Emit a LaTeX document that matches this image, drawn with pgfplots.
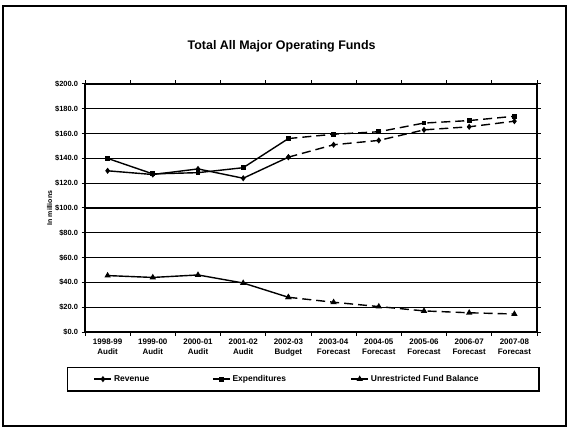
\documentclass[border=0pt]{standalone}
\usepackage{fontspec}
\setmainfont{Liberation Sans}
\usepackage{pgfplots}
\pgfplotsset{compat=1.18}
\usepackage{pgfplotstable}

% Actuals and budget: 1998-99 .. 2002-03 (x = 0..4)
\pgfplotstableread{
x  rev    exp    fb
0  130.0  140.0  45.5
1  127.0  127.5  44.0
2  131.5  128.5  46.0
3  124.0  132.5  39.5
4  141.0  156.0  28.0
}\actuals
% Forecast: 2002-03 .. 2007-08 (x = 4..9)
\pgfplotstableread{
x  rev    exp    fb
4  141.0  156.0  28.0
5  151.0  159.5  24.0
6  154.5  161.5  20.5
7  163.0  168.5  17.0
8  165.5  170.5  15.5
9  170.0  174.0  14.5
}\forecast

\begin{document}
\begin{tikzpicture}
\useasboundingbox (0bp,0bp) rectangle (568bp,431bp);
\draw[line width=1.8bp] (3bp,5bp) rectangle (566bp,425bp);
\begin{axis}[
  at={(85bp,99bp)}, anchor=south west,
  scale only axis, width=452bp, height=248bp,
  xmin=-0.5, xmax=9.5, ymin=0, ymax=200,
  xtick={0,...,9},
  xticklabels={{1998-99\\Audit},{1999-00\\Audit},{2000-01\\Audit},{2001-02\\Audit},{2002-03\\Budget},{2003-04\\Forecast},{2004-05\\Forecast},{2005-06\\Forecast},{2006-07\\Forecast},{2007-08\\Forecast}},
  xticklabel style={align=center, font=\fontsize{8}{9.5}\selectfont\bfseries},
  major x tick style={draw=none},
  minor xtick={-0.5,0.5,...,9.5},
  ytick={0,20,...,200},
  yticklabels={\$0.0,\$20.0,\$40.0,\$60.0,\$80.0,\$100.0,\$120.0,\$140.0,\$160.0,\$180.0,\$200.0},
  yticklabel style={font=\fontsize{7.5}{8}\selectfont\bfseries},
  ylabel={In millions},
  ylabel style={font=\fontsize{7}{8}\selectfont\bfseries, yshift=-4bp},
  ymajorgrids, grid style={black, line width=1.2bp},
  axis line style={line width=1.4bp},
  tick align=outside, tick style={black, line width=1bp},
  major tick length=3.5bp, minor tick length=3.5bp,
  title={Total All Major Operating Funds},
  title style={at={(0.435,1)}, anchor=center, yshift=32bp, font=\fontsize{12.5}{14}\selectfont\bfseries},
  legend columns=3,
  legend style={at={(0.483,-0.19)}, anchor=center, draw=black, line width=1.4bp,
    font=\fontsize{8.5}{10}\selectfont\bfseries, inner xsep=26bp, inner ysep=6bp},
  legend cell align=left,
  every axis plot/.append style={black, line width=1.4bp, mark size=2bp, mark options={solid, fill=black}},
]
\addplot[mark=diamond*] table[x=x, y=rev] {\actuals};
\addplot[mark=square*, mark size=1.7bp] table[x=x, y=exp] {\actuals};
\addplot[mark=triangle*, mark size=2.3bp] table[x=x, y=fb] {\actuals};
\addplot[mark=diamond*, dash pattern=on 9bp off 5bp, forget plot] table[x=x, y=rev] {\forecast};
\addplot[mark=square*, mark size=1.7bp, dash pattern=on 9bp off 5bp, forget plot] table[x=x, y=exp] {\forecast};
\addplot[mark=triangle*, mark size=2.3bp, dash pattern=on 9bp off 5bp, forget plot] table[x=x, y=fb] {\forecast};
\legend{\makebox[96bp][l]{Revenue},\makebox[116bp][l]{Expenditures},\makebox[140bp][l]{Unrestricted Fund Balance}}
\end{axis}
\end{tikzpicture}
\end{document}
